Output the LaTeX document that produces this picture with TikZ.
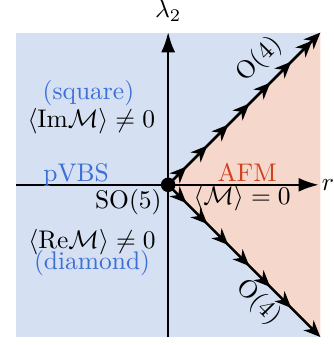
\documentclass[tikz,border=0pt]{standalone}
\usetikzlibrary{positioning, arrows.meta, decorations.markings}
\definecolor{vbsbg}{RGB}{213,224,242}
\definecolor{afmbg}{RGB}{245,215,204}
\definecolor{vbstext}{RGB}{60,110,215}
\definecolor{afmtext}{RGB}{210,65,30}

\begin{document}
\begin{tikzpicture}
  \tikzset{
    axis/.style={
      line width=1pt,
      -{Latex[length=8pt,width=5.5pt]}
    },
    flowline/.style={
      line width=1pt,
      -{Stealth[length=6.5pt,width=5.5pt,inset=2pt]},
      postaction={decorate},
      decoration={markings,
        mark=between positions 0.12 and #1 step 0.138
          with {\arrow{Stealth[length=6.5pt,width=5.5pt,inset=2pt]}}}
    },
    phase/.style={
      text=vbstext
    },
    afm/.style={
      text=afmtext
    }
  }
  \useasboundingbox (-2.32,-2.21) rectangle (2.28,2.55);

  % Phase regions
  \fill[vbsbg] (-2.1,-2.1) rectangle (2.1,2.1);
  \coordinate (o) at (0,0);
  \coordinate (up) at (2.1,2.1);
  \coordinate (dn) at (2.1,-2.1);
  \fill[afmbg] (o) -- (up) -- (dn) -- cycle;

  % Axes
  \coordinate (xl) at (-2.1,0);
  \coordinate (xr) at (2.08,0);
  \coordinate (yb) at (0,-2.1);
  \coordinate (yt) at (0,2.11);
  \draw[axis] (xl) -- (xr);
  \draw[axis] (yb) -- (yt);
  \node[above=0.02cm of yt] (lam) {$\lambda_2$};
  \node[right=0pt of xr, inner sep=1pt] (rlab) {$r$};

  % O(4) flow lines
  \draw[flowline=0.95] (o) -- (up);
  \draw[flowline=0.82] (o) -- (dn);
  \node[rotate=45, inner sep=1pt] (o4up) at (1.26,1.73) {O(4)};
  \node[rotate=-45, inner sep=1pt] (o4dn) at (1.25,-1.62) {O(4)};

  % Multicritical point
  \node[circle, fill, inner sep=0pt, minimum size=0.2cm] (dot) at (o) {};
  \node (so5) at (-0.55,-0.24) {SO(5)};

  % Phase labels
  \node[phase] (square) at (-1.10,1.27) {(square)};
  \node (im) at (-1.06,0.88) {$\langle \mathrm{Im}\mathcal{M}\rangle \neq 0$};
  \node[phase] (pvbs) at (-1.27,0.14) {pVBS};
  \node (re) at (-1.05,-0.79) {$\langle \mathrm{Re}\mathcal{M}\rangle \neq 0$};
  \node[phase] (diamond) at (-1.05,-1.08) {(diamond)};
  \node[afm] (afmlab) at (1.09,0.17) {AFM};
  \node (mzero) at (1.02,-0.18) {$\langle \mathcal{M}\rangle = 0$};

\end{tikzpicture}
\end{document}
